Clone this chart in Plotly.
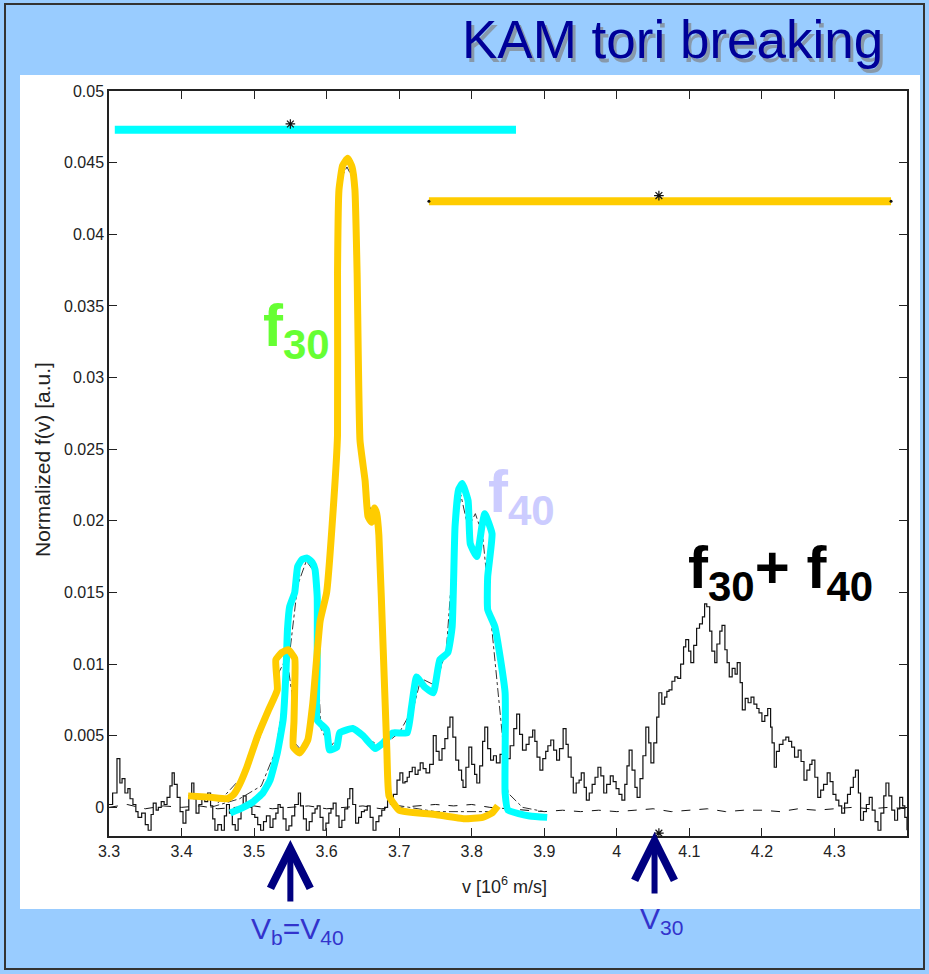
import plotly.graph_objects as go

# ---------------- data ----------------
# f30+f40 total (solid black), f in units of 1e-3
V_TOT = [3.300,3.305,3.311,3.315,3.318,3.322,3.326,3.329,3.333,3.337,3.340,3.345,3.350,3.354,3.358,3.361,3.365,3.368,3.372,3.376,
         3.380,3.384,3.387,3.390,3.394,3.398,3.402,3.406,3.410,3.414,3.417,3.420,3.424,3.428,3.432,3.436,3.440,3.443,3.446,3.450,
         3.455,3.459,3.462,3.466,3.470,3.474,3.478,3.482,3.485,3.489,3.493,3.497,3.501,3.505,3.509,3.513,3.517,3.522,3.526,3.530,
         3.533,3.536,3.540,3.544,3.548,3.552,3.556,3.561,3.564,3.568,3.572,3.576,3.580,3.584,3.587,3.591,3.595,3.599,3.603,3.606,
         3.609,3.613,3.617,3.621,3.625,3.629,3.632,3.636,3.640,3.644,3.648,3.652,3.656,3.660,3.664,3.668,3.672,3.676,3.680,3.684,
         3.688,3.692,3.697,3.701,3.705,3.708,3.711,3.714,3.718,3.722,3.726,3.729,3.733,3.737,3.742,3.747,3.751,3.755,3.759,3.763,
         3.767,3.770,3.774,3.778,3.782,3.786,3.788,3.792,3.796,3.800,3.804,3.807,3.811,3.815,3.818,3.822,3.826,3.830,3.834,3.839,
         3.844,3.849,3.853,3.858,3.862,3.866,3.870,3.875,3.879,3.884,3.887,3.890,3.894,3.898,3.902,3.905,3.909,3.913,3.917,3.921,
         3.926,3.930,3.933,3.937,3.940,3.944,3.948,3.951,3.955,3.958,3.962,3.966,3.970,3.974,3.978,3.982,3.986,3.991,3.995,3.999,
         4.003,4.007,4.011,4.014,4.017,4.021,4.025,4.028,4.032,4.036,4.040,4.044,4.047,4.051,4.055,4.058,4.062,4.066,4.069,4.072,
         4.076,4.080,4.084,4.088,4.092,4.095,4.099,4.102,4.106,4.110,4.114,4.118,4.121,4.124,4.128,4.131,4.135,4.138,4.142,4.145,
         4.149,4.152,4.155,4.159,4.163,4.166,4.170,4.173,4.177,4.181,4.185,4.189,4.193,4.196,4.200,4.204,4.208,4.212,4.214,4.217,
         4.220,4.224,4.229,4.233,4.237,4.241,4.245,4.250,4.254,4.258,4.262,4.266,4.269,4.273,4.277,4.281,4.285,4.290,4.294,4.298,
         4.302,4.306,4.310,4.314,4.318,4.322,4.326,4.329,4.333,4.336,4.340,4.344,4.348,4.352,4.356,4.360,4.364,4.368,4.371,4.375,
         4.379,4.383,4.387,4.390,4.394,4.397,4.400]
F_TOT_MILLI = [0.2,1.0,3.4,1.7,2.0,1.0,1.3,0.6,0.2,-0.3,-0.7,-0.4,-1.2,-1.6,-0.5,0.3,-0.2,0.0,0.4,0.2,
               0.7,1.5,2.4,1.6,0.7,-0.3,-1.1,-0.2,0.8,1.7,0.6,-0.4,0.2,0.7,0.4,1.0,0.1,-0.8,-1.6,-1.2,
               -1.6,-0.6,0.2,-0.4,-1.2,-1.6,-0.8,0.1,0.8,0.3,0.0,-0.5,-0.7,-1.2,-1.6,-1.0,-0.6,-1.4,-0.8,-0.4,
               0.2,0.0,-0.8,-1.6,-1.3,-0.6,0.2,1.0,0.1,-0.8,-1.6,-1.0,-0.4,-0.1,0.1,-0.7,-1.6,-1.1,-0.4,-0.1,
               0.3,-0.6,-1.4,-0.9,-0.1,0.6,1.3,0.2,-1.1,-0.7,-0.3,-0.2,0.1,-0.7,-1.6,-1.0,-0.6,-0.2,0.0,0.5,
               0.2,0.9,1.9,2.4,1.7,1.8,2.1,2.5,2.8,2.3,2.6,3.1,2.7,2.4,3.0,5.0,3.9,3.3,4.1,4.8,
               5.6,6.3,4.9,3.3,2.6,1.9,1.4,2.8,4.2,3.0,2.3,1.7,2.9,4.6,5.6,4.1,3.3,3.6,3.1,3.7,
               3.2,3.4,4.3,5.5,6.5,5.1,4.0,4.4,4.9,5.4,4.6,3.5,2.6,3.4,3.9,4.3,4.7,4.0,3.3,4.1,
               5.5,4.4,3.5,2.1,1.0,1.7,1.9,2.4,1.4,0.5,1.0,1.6,2.1,2.8,2.2,1.0,1.6,2.2,1.8,1.3,
               0.9,0.5,1.6,2.9,4.0,2.6,1.4,0.7,2.0,3.6,5.6,4.5,3.1,4.5,6.3,8.0,7.2,7.7,8.1,8.2,
               8.8,9.1,9.0,10.0,11.2,11.7,10.9,10.1,11.3,12.5,12.8,13.3,14.2,14.0,12.3,10.9,10.1,11.4,12.3,12.7,
               11.0,10.1,9.1,9.7,9.3,10.1,8.7,6.8,7.6,7.3,7.7,7.2,6.9,6.6,6.0,6.4,6.9,5.6,4.5,2.8,
               3.9,4.4,4.7,4.9,4.6,4.2,3.5,4.0,3.2,1.9,2.6,3.0,3.3,2.1,0.7,1.2,1.6,2.4,1.8,0.9,
               0.5,0.1,-0.4,0.3,0.9,1.4,2.1,2.6,1.0,-0.9,-0.3,0.2,0.7,-0.2,-1.0,-1.6,-0.4,0.8,1.7,0.8,
               -0.2,-0.9,-0.1,0.7,0.1,-0.7,-1.6]

# dashed black background level
V_BG = [3.300,3.325,3.350,3.375,3.400,3.425,3.450,3.475,3.500,3.525,3.550,3.575,3.600,3.625,3.650,3.675,3.700,3.725,3.750,3.775,
        3.800,3.825,3.850,3.875,3.900,3.925,3.950,3.975,4.000,4.025,4.050,4.075,4.100,4.125,4.150,4.175,4.200,4.225,4.250,4.275,
        4.300,4.325,4.350,4.375,4.400]
F_BG_MILLI = [0.0,0.2,-0.1,0.1,0.0,0.1,-0.1,0.0,0.1,-0.1,0.0,0.1,-0.1,0.0,0.1,-0.1,0.0,0.1,0.2,0.1,
              0.2,0.0,-0.1,-0.2,-0.3,-0.2,-0.3,-0.2,-0.3,-0.2,-0.1,-0.3,-0.2,-0.1,-0.3,-0.2,-0.2,-0.3,-0.1,-0.2,
              -0.1,0.0,-0.1,0.0,-0.1]

# dash-dot black underlying distributions (mostly hidden under the highlights)
V_DD40 = [3.440,3.480,3.510,3.530,3.545,3.560,3.572,3.582,3.588,3.592,3.605,3.620,3.636,3.660,3.675,3.700,3.720,3.730,3.750,3.765,
          3.775,3.785,3.795,3.805,3.815,3.825,3.835,3.850,3.870,3.900]
F_DD40 = [0.0000,0.0006,0.0015,0.0040,0.0090,0.0155,0.0172,0.0165,0.0100,0.0055,0.0042,0.0052,0.0057,0.0047,0.0042,0.0052,0.0070,0.0090,0.0085,0.0110,
          0.0180,0.0218,0.0195,0.0205,0.0190,0.0140,0.0090,0.0010,0.0000,-0.0003]
V_DD30 = [3.450,3.490,3.520,3.535,3.545,3.552,3.556,3.565,3.575,3.583,3.592,3.602,3.611,3.616,3.617,3.621,3.628,3.635,3.640,3.643,
          3.647,3.655,3.665,3.672,3.679,3.684,3.690,3.750,3.830]
F_DD30 = [0.0003,0.0025,0.0065,0.0095,0.0105,0.0080,0.0045,0.0040,0.0048,0.0085,0.0135,0.0160,0.0225,0.0300,0.0400,0.0440,0.0447,0.0440,0.0400,0.0330,
          0.0250,0.0215,0.0203,0.0185,0.0100,0.0030,0.0002,-0.0003,-0.0003]

# f30 highlight (yellow, hand drawn)
V_F30 = [3.409,3.440,3.463,3.472,3.480,3.490,3.505,3.520,3.532,3.530,3.538,3.547,3.556,3.556,3.555,3.554,3.563,3.574,3.581,3.591,
         3.600,3.610,3.615,3.615,3.617,3.622,3.629,3.635,3.639,3.642,3.646,3.653,3.657,3.662,3.666,3.669,3.672,3.678,3.683,3.686,
         3.700,3.750,3.790,3.815,3.828,3.836]
F_F30 = [0.0008,0.0007,0.0006,0.0009,0.0016,0.0028,0.0050,0.0068,0.0082,0.0103,0.0108,0.0110,0.0104,0.0084,0.0060,0.0042,0.0038,0.0047,0.0073,0.0130,
         0.0150,0.0215,0.0260,0.0373,0.0431,0.0448,0.0453,0.0447,0.0431,0.0373,0.0256,0.0228,0.0203,0.0199,0.0209,0.0205,0.0190,0.0110,0.0040,0.0008,
         -0.0002,-0.0005,-0.0008,-0.0007,-0.0004,0.0001]

# f40 highlight (cyan, hand drawn)
V_F40 = [3.467,3.485,3.499,3.512,3.522,3.532,3.540,3.544,3.546,3.549,3.556,3.560,3.566,3.573,3.580,3.584,3.587,3.587,3.587,3.600,
         3.604,3.614,3.618,3.636,3.650,3.667,3.678,3.691,3.711,3.717,3.724,3.735,3.747,3.756,3.767,3.773,3.777,3.782,3.787,3.795,
         3.798,3.807,3.814,3.818,3.828,3.822,3.822,3.832,3.846,3.846,3.850,3.880,3.904]
F_F40 = [-0.0004,0.0000,0.0004,0.0010,0.0019,0.0038,0.0061,0.0095,0.0124,0.0140,0.0150,0.0168,0.0173,0.0174,0.0171,0.0166,0.0147,0.0100,0.0061,0.0054,
         0.0040,0.0042,0.0052,0.0055,0.0050,0.0041,0.0045,0.0052,0.0052,0.0070,0.0091,0.0084,0.0080,0.0103,0.0108,0.0126,0.0196,0.0222,0.0226,0.0214,
         0.0184,0.0175,0.0196,0.0205,0.0191,0.0161,0.0138,0.0126,0.0080,0.0010,-0.0002,-0.0006,-0.0007]

# resonance widths (horizontal bars) and centres
BAR40_V = [3.308, 3.861]; BAR40_F = 0.0473
BAR30_V = [3.741, 4.378]; BAR30_F = 0.0423
V_B = 3.55     # = V40
V_30 = 4.058

X_TICKS = [3.3,3.4,3.5,3.6,3.7,3.8,3.9,4.0,4.1,4.2,4.3]
X_TICKTEXT = ["3.3","3.4","3.5","3.6","3.7","3.8","3.9","4","4.1","4.2","4.3"]
Y_TICKS = [0,0.005,0.01,0.015,0.02,0.025,0.03,0.035,0.04,0.045,0.05]
Y_TICKTEXT = ["0","0.005","0.01","0.015","0.02","0.025","0.03","0.035","0.04","0.045","0.05"]

# ---------------- figure ----------------
W, H = 929, 974
L, R, T, B = 109, 22, 91, 138
PW, PH = W - L - R, H - T - B

def px(x):  # pixel -> paper x
    return (x - L) / PW

def py(y):  # pixel -> paper y
    return (H - B - y) / PH

YELLOW = "#FFCC00"
CYAN = "#00FFFF"
BLACK = "#111111"

fig = go.Figure()

fig.add_trace(go.Scatter(x=V_BG, y=[v / 1000 for v in F_BG_MILLI], mode="lines",
                         line=dict(color=BLACK, width=1, dash="dash"), hoverinfo="skip"))
fig.add_trace(go.Scatter(x=V_TOT, y=[v / 1000 for v in F_TOT_MILLI], mode="lines",
                         line=dict(color=BLACK, width=1.2, shape="hv"), hoverinfo="skip"))
fig.add_trace(go.Scatter(x=V_DD40, y=F_DD40, mode="lines",
                         line=dict(color="#333333", width=1, dash="dashdot"), hoverinfo="skip"))
fig.add_trace(go.Scatter(x=V_DD30, y=F_DD30, mode="lines",
                         line=dict(color="#333333", width=1, dash="dashdot"), hoverinfo="skip"))
fig.add_trace(go.Scatter(x=V_F40, y=F_F40, mode="lines",
                         line=dict(color=CYAN, width=7, shape="spline", smoothing=0.4), hoverinfo="skip"))
fig.add_trace(go.Scatter(x=V_F30, y=F_F30, mode="lines",
                         line=dict(color=YELLOW, width=7, shape="spline", smoothing=0.4), hoverinfo="skip"))
fig.add_trace(go.Scatter(x=BAR40_V, y=[BAR40_F, BAR40_F], mode="lines",
                         line=dict(color=CYAN, width=8), hoverinfo="skip"))
fig.add_trace(go.Scatter(x=BAR30_V, y=[BAR30_F, BAR30_F], mode="lines+markers",
                         line=dict(color=YELLOW, width=8),
                         marker=dict(color=BLACK, size=3), hoverinfo="skip"))
fig.add_trace(go.Scatter(x=[V_B, V_30, V_B, V_30], y=[BAR40_F + 0.0004, BAR30_F + 0.0004, -0.0024, -0.0018],
                         mode="markers", cliponaxis=False,
                         marker=dict(symbol="asterisk-open", size=8, color=BLACK, line=dict(color=BLACK, width=1.2)),
                         hoverinfo="skip"))

axis_common = dict(showline=True, linecolor="#222222", linewidth=1.5, mirror="ticks",
                   ticks="inside", ticklen=8, tickwidth=1, tickcolor="#222222",
                   showgrid=False, zeroline=False,
                   tickfont=dict(family="Liberation Sans, Arial, sans-serif", size=16, color="#222222"))

fig.update_layout(
    width=W, height=H,
    margin=dict(l=L, r=R, t=T, b=B, pad=0),
    paper_bgcolor="#99CCFF", plot_bgcolor="white",
    showlegend=False,
    xaxis=dict(range=[3.3, 4.4], tickvals=X_TICKS, ticktext=X_TICKTEXT, **axis_common),
    yaxis=dict(range=[-0.002, 0.05], tickvals=Y_TICKS, ticktext=Y_TICKTEXT, **axis_common),
)

shapes = [
    dict(type="rect", xref="paper", yref="paper", x0=px(20), x1=px(920), y0=py(909), y1=py(75),
         fillcolor="white", line=dict(width=0), layer="below"),
    dict(type="rect", xref="paper", yref="paper", x0=px(5), x1=px(924), y0=py(969), y1=py(4),
         fillcolor="rgba(0,0,0,0)", line=dict(color="#333333", width=2), layer="below"),
]
fig.update_layout(shapes=shapes)

NAVY = "#000080"
anns = []
# title with shadow
anns.append(dict(text="KAM tori breaking", xref="paper", yref="paper", x=px(888), y=py(43),
                 xanchor="right", yanchor="middle", showarrow=False,
                 font=dict(family="Liberation Sans, Arial", size=53, color="#8899AA")))
anns.append(dict(text="KAM tori breaking", xref="paper", yref="paper", x=px(885), y=py(40),
                 xanchor="right", yanchor="middle", showarrow=False,
                 font=dict(family="Liberation Sans, Arial", size=53, color="#000099")))
# axis titles
anns.append(dict(text="Normalized f(v) [a.u.]", xref="paper", yref="paper", x=px(42), y=py(460),
                 xanchor="center", yanchor="middle", textangle=-90, showarrow=False,
                 font=dict(family="Liberation Sans, Arial", size=21, color="#222222")))
anns.append(dict(text="v [10<sup>6</sup> m/s]", xref="paper", yref="paper", x=px(504), y=py(885),
                 xanchor="center", yanchor="middle", showarrow=False,
                 font=dict(family="Liberation Sans, Arial", size=18, color="#222222")))
# curve labels
anns.append(dict(text="<b>f<sub>30</sub></b>", xref="paper", yref="paper", x=px(261), y=py(330),
                 xanchor="left", yanchor="middle", showarrow=False,
                 font=dict(family="Liberation Sans, Arial", size=60, color="#66FF33")))
anns.append(dict(text="<b>f<sub>40</sub></b>", xref="paper", yref="paper", x=px(486), y=py(496),
                 xanchor="left", yanchor="middle", showarrow=False,
                 font=dict(family="Liberation Sans, Arial", size=60, color="#CCCCFF")))
anns.append(dict(text="<b>f<sub>30</sub>+ f<sub>40</sub></b>", xref="paper", yref="paper", x=px(686), y=py(572),
                 xanchor="left", yanchor="middle", showarrow=False,
                 font=dict(family="Liberation Sans, Arial", size=60, color="black")))
# velocity labels
anns.append(dict(text="V<sub>b</sub>=V<sub>40</sub>", xref="paper", yref="paper", x=px(249), y=py(930),
                 xanchor="left", yanchor="middle", showarrow=False,
                 font=dict(family="Liberation Sans, Arial", size=30, color="#3333CC")))
anns.append(dict(text="V<sub>30</sub>", xref="paper", yref="paper", x=px(638), y=py(920),
                 xanchor="left", yanchor="middle", showarrow=False,
                 font=dict(family="Liberation Sans, Arial", size=30, color="#3333CC")))
# arrows
anns.append(dict(text="", x=V_B, xref="x", y=py(840), yref="paper", ax=0, ay=63,
                 showarrow=True, arrowhead=5, arrowsize=1.3, arrowwidth=6, arrowcolor=NAVY, standoff=0))
anns.append(dict(text="", x=V_30 - 0.006, xref="x", y=py(832), yref="paper", ax=0, ay=63,
                 showarrow=True, arrowhead=5, arrowsize=1.3, arrowwidth=6, arrowcolor=NAVY, standoff=0))
fig.update_layout(annotations=anns)

fig.write_html("out.html", config={"displayModeBar": False},
               post_script="document.body.style.margin='0';document.body.style.padding='0';")
